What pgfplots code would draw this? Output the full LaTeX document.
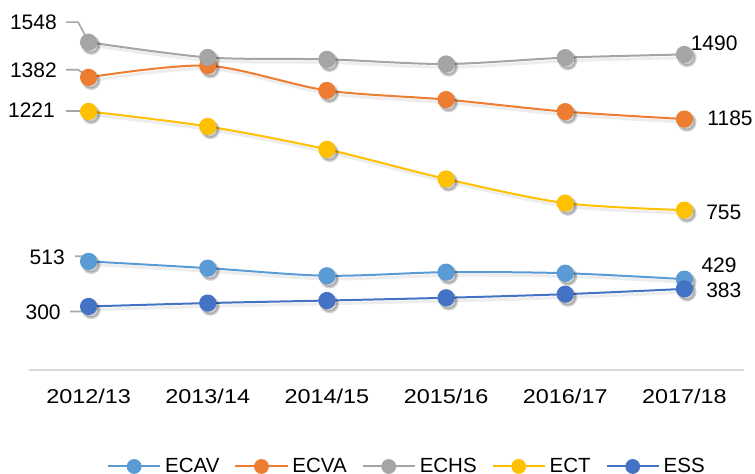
\documentclass[border=0pt]{standalone}
\usepackage{pgfplots}
\pgfplotsset{compat=1.18}
\usepackage{fontspec}
\setmainfont{Liberation Sans}
\newfontfamily\tickfont[FakeStretch=1.17]{Liberation Sans}
\definecolor{cECAV}{HTML}{5B9BD5}
\definecolor{cECVA}{HTML}{ED7D31}
\definecolor{cECHS}{HTML}{A5A5A5}
\definecolor{cECT}{HTML}{FFC000}
\definecolor{cESS}{HTML}{4472C4}
\definecolor{axgray}{HTML}{D9D9D9}
\definecolor{leader}{HTML}{A6A6A6}
\pgfplotstableread{
x ECAV ECVA ECHS ECT ESS
0 513 1382 1548 1221 300
1 481 1437 1476 1150 316
2 445 1320 1467 1042 328
3 462 1277 1445 902 341
4 457 1220 1475 788 358
5 429 1185 1490 755 383
}\datatable
\newcommand{\lf}{\fontsize{10.5}{12}\selectfont}
\begin{document}
\begin{tikzpicture}
\path[use as bounding box] (0,0) rectangle (377.5pt,237pt);
\begin{axis}[
  at={(14.5pt,52pt)}, anchor=south west,
  scale only axis, width=357.5pt, height=180pt,
  xmin=-0.5, xmax=5.5, ymin=0, ymax=1700,
  axis x line=bottom, axis y line=none,
  x axis line style={draw=axgray, line width=1pt, -},
  xtick={0,...,5},
  xticklabels={2012/13,2013/14,2014/15,2015/16,2016/17,2017/18},
  major tick length=0pt, ytick=\empty,
  xticklabel style={font=\tickfont\fontsize{10}{12}\selectfont, yshift=-6pt},
  clip=false,
  legend style={at={(0.53,-0.268)}, anchor=center, draw=none, fill=none,
    legend columns=5, font=\fontsize{10.25}{12}\selectfont,
    /tikz/every even column/.append style={column sep=5.5pt}},
  legend image code/.code={\draw[#1, mark repeat=2, mark phase=2, mark size=3.2pt] plot coordinates {(0pt,0pt) (13pt,0pt) (26pt,0pt)};},
  every axis plot/.append style={line width=1pt, smooth, tension=0.5},
]
% shadows
\foreach \s in {ECAV,ECVA,ECHS,ECT,ESS}{
  \addplot[forget plot, draw=black, opacity=0.07, line width=1.5pt, mark=*, mark size=4pt,
    mark options={draw=none, fill=black, opacity=0.18}, xshift=1.3pt, yshift=-1.6pt] table[x=x, y=\s] {\datatable};
}
\addplot[color=cECAV, mark=*, mark size=3.8pt, mark options={fill=cECAV, draw=cECAV}] table[x=x, y=ECAV] {\datatable};
\addlegendentry{ECAV}
\addplot[color=cECVA, mark=*, mark size=3.8pt, mark options={fill=cECVA, draw=cECVA}] table[x=x, y=ECVA] {\datatable};
\addlegendentry{ECVA}
\addplot[color=cECHS, mark=*, mark size=3.8pt, mark options={fill=cECHS, draw=cECHS}] table[x=x, y=ECHS] {\datatable};
\addlegendentry{ECHS}
\addplot[color=cECT, mark=*, mark size=3.8pt, mark options={fill=cECT, draw=cECT}] table[x=x, y=ECT] {\datatable};
\addlegendentry{ECT}
\addplot[color=cESS, mark=*, mark size=3.8pt, mark options={fill=cESS, draw=cESS}] table[x=x, y=ESS] {\datatable};
\addlegendentry{ESS}
% leader lines
\draw[leader, line width=0.8pt] (axis cs:-0.189,1643) -- (axis cs:-0.088,1643) -- (axis cs:-0.02,1570);
\draw[leader, line width=0.8pt] (axis cs:-0.189,1418) -- (axis cs:-0.088,1418) -- (axis cs:-0.02,1392);
\draw[leader, line width=0.8pt] (axis cs:-0.189,1224) -- (axis cs:-0.03,1224);
\draw[leader, line width=0.8pt] (axis cs:-0.113,537) -- (axis cs:-0.04,537) -- (axis cs:-0.01,520);
\draw[leader, line width=0.8pt] (axis cs:-0.155,276) -- (axis cs:-0.06,276) -- (axis cs:-0.01,295);
% data labels
\node[anchor=east, inner sep=0pt, font=\lf] at (axis cs:-0.264,1643) {1548};
\node[anchor=east, inner sep=0pt, font=\lf] at (axis cs:-0.264,1416) {1382};
\node[anchor=east, inner sep=0pt, font=\lf] at (axis cs:-0.28,1225) {1221};
\node[anchor=east, inner sep=0pt, font=\lf] at (axis cs:-0.197,532) {513};
\node[anchor=east, inner sep=0pt, font=\lf] at (axis cs:-0.231,272) {300};
\node[anchor=west, inner sep=0pt, font=\lf] at (axis cs:5.05,1543) {1490};
\node[anchor=west, inner sep=0pt, font=\lf] at (axis cs:5.19,1189) {1185};
\node[anchor=west, inner sep=0pt, font=\lf] at (axis cs:5.18,745) {755};
\node[anchor=west, inner sep=0pt, font=\lf] at (axis cs:5.14,494) {429};
\node[anchor=west, inner sep=0pt, font=\lf] at (axis cs:5.18,376) {383};
\end{axis}
\end{tikzpicture}
\end{document}
